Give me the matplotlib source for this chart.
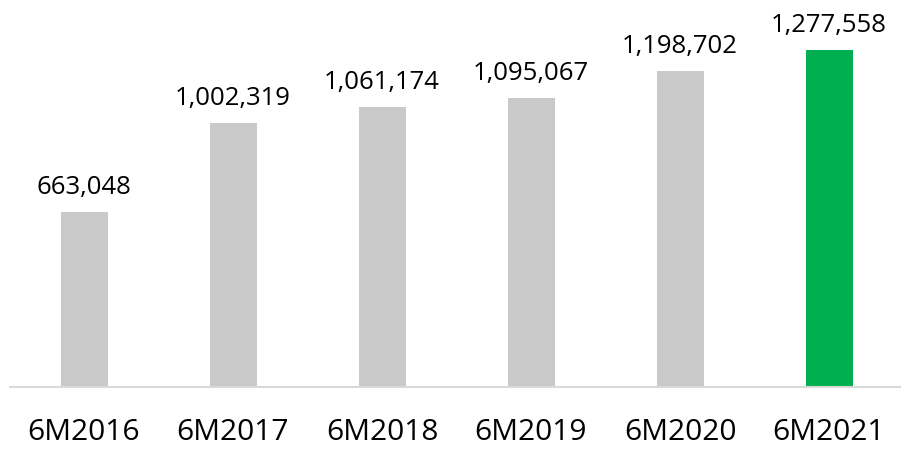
import matplotlib.pyplot as plt

periods = ["6M2016", "6M2017", "6M2018", "6M2019", "6M2020", "6M2021"]
values = [663048, 1002319, 1061174, 1095067, 1198702, 1277558]
colors = ["#C9C9C9"] * 5 + ["#00B050"]

plt.rcParams['font.family'] = ['Open Sans', 'DejaVu Sans']

fig = plt.figure(figsize=(9.01, 4.51), dpi=100)
ax = fig.add_axes([9.5 / 901, (451 - 387) / 451, 894 / 901, 387 / 451])

x = range(len(periods))
ax.bar(x, values, width=47 / 149, color=colors, zorder=2)
for i, v in enumerate(values):
    ax.text(i, v + 68000, f"{v:,}", ha="center", va="baseline", fontsize=18.5)

ax.set_xlim(-0.5, len(periods) - 0.5)
ax.set_ylim(0, 1277558 * 387 / 337)
ax.set_xticks(list(x))
ax.set_xticklabels(periods, fontsize=21.5)
ax.tick_params(axis="x", length=0, pad=22)
ax.set_yticks([])
for s in ["top", "right", "left"]:
    ax.spines[s].set_visible(False)
ax.spines["bottom"].set_color("#D9D9D9")
ax.spines["bottom"].set_linewidth(1.5)

fig.savefig("out.png", dpi=100)
